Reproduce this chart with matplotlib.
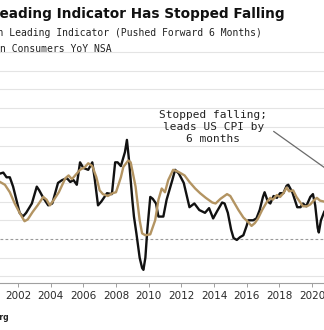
import matplotlib
matplotlib.use("Agg")
import matplotlib.pyplot as plt
import numpy as np

# US CPI, urban consumers, YoY % (NSA)
cpi_t = [2000.9, 2001.1, 2001.3, 2001.5, 2001.7, 2001.9, 2002.1, 2002.3, 2002.5, 2002.85,
         2003.15, 2003.3, 2003.55, 2003.85, 2004.1, 2004.45, 2004.7, 2005.0, 2005.2, 2005.4,
         2005.6, 2005.8, 2006.0, 2006.3, 2006.55, 2006.7, 2006.9, 2007.1, 2007.45, 2007.75,
         2007.95, 2008.1, 2008.3, 2008.55, 2008.67, 2008.8, 2009.0, 2009.1, 2009.25, 2009.45,
         2009.6, 2009.68, 2009.8, 2009.92, 2010.1, 2010.25, 2010.45, 2010.6, 2010.9, 2011.1,
         2011.45, 2011.62, 2011.85, 2012.15, 2012.5, 2012.8, 2013.1, 2013.45, 2013.7, 2013.95,
         2014.2, 2014.5, 2014.65, 2014.85, 2015.05, 2015.2, 2015.4, 2015.6, 2015.8, 2016.0,
         2016.1, 2016.4, 2016.6, 2016.8, 2017.0, 2017.1, 2017.3, 2017.45, 2017.65, 2017.85,
         2018.05, 2018.25, 2018.45, 2018.55, 2018.8, 2018.95, 2019.1, 2019.3, 2019.45, 2019.65,
         2019.9, 2020.06, 2020.2, 2020.35, 2020.42, 2020.55, 2020.75]
cpi_v = [3.5, 3.55, 3.3, 3.3, 2.8, 2.1, 1.4, 1.2, 1.4, 1.9,
         2.8, 2.6, 2.2, 1.8, 1.9, 3.0, 3.15, 3.25, 3.05, 3.15,
         2.9, 4.1, 3.8, 3.7, 4.1, 3.2, 1.8, 2.0, 2.45, 2.4,
         4.1, 4.1, 3.9, 4.65, 5.3, 4.2, 2.1, 1.2, 0.3, -1.0,
         -1.55, -1.65, -1.0, 0.5, 2.25, 2.15, 1.9, 1.2, 1.2, 2.1,
         3.15, 3.7, 3.5, 3.0, 1.7, 1.9, 1.55, 1.4, 1.65, 1.1,
         1.5, 1.95, 1.9, 1.4, 0.5, 0.05, -0.05, 0.1, 0.2, 0.7,
         1.0, 1.0, 1.1, 1.55, 2.25, 2.5, 2.0, 1.9, 2.3, 2.2,
         2.45, 2.45, 2.85, 2.9, 2.5, 2.1, 1.7, 1.7, 1.9, 1.75,
         2.25, 2.4, 1.8, 0.6, 0.35, 1.0, 1.45]

# Inflation leading indicator, pushed forward 6 months
lead_t = [2000.9, 2001.2, 2001.5, 2001.8, 2002.1, 2002.4, 2002.6, 2002.9, 2003.2, 2003.55,
          2003.75, 2003.95, 2004.2, 2004.5, 2004.9, 2005.1, 2005.3, 2005.5, 2005.8, 2006.1,
          2006.3, 2006.55, 2006.8, 2007.0, 2007.2, 2007.5, 2007.8, 2008.0, 2008.3, 2008.45,
          2008.75, 2008.9, 2009.2, 2009.45, 2009.6, 2009.8, 2010.1, 2010.4, 2010.6, 2010.8,
          2011.0, 2011.2, 2011.5, 2011.8, 2012.2, 2012.5, 2012.85, 2013.15, 2013.5, 2013.9,
          2014.1, 2014.4, 2014.8, 2015.0, 2015.2, 2015.5, 2015.8, 2016.1, 2016.3, 2016.5,
          2016.7, 2016.95, 2017.25, 2017.45, 2017.6, 2017.85, 2018.05, 2018.25, 2018.45, 2018.6,
          2018.85, 2019.05, 2019.25, 2019.45, 2019.7, 2019.9, 2020.1, 2020.3, 2020.5, 2020.75]
lead_v = [3.05, 2.9, 2.5, 1.9, 1.4, 0.95, 1.05, 1.45, 1.8, 2.25,
          2.1, 1.8, 2.1, 2.5, 3.25, 3.4, 3.2, 3.4, 3.7, 3.85,
          4.05, 3.9, 3.3, 2.6, 2.4, 2.3, 2.45, 2.5, 3.3, 3.85,
          4.2, 4.1, 2.8, 1.0, 0.3, 0.2, 0.25, 1.0, 2.1, 2.7,
          2.5, 3.15, 3.7, 3.6, 3.4, 3.05, 2.7, 2.45, 2.2, 1.95,
          1.9, 2.15, 2.4, 2.3, 2.0, 1.55, 1.15, 0.9, 0.7, 0.85,
          1.1, 1.55, 2.0, 2.2, 2.1, 2.35, 2.25, 2.45, 2.75, 2.55,
          2.6, 2.25, 2.0, 1.75, 1.75, 1.85, 2.05, 2.2, 2.05, 2.0]

year_ticks = [2002, 2004, 2006, 2008, 2010, 2012, 2014, 2016, 2018, 2020]
grid_levels = [-2, -1, 1, 2, 3, 4, 5, 6, 7, 8, 9, 10]

title = "Inflation Leading Indicator Has Stopped Falling"
sub1 = "Bloomberg Economics Inflation Leading Indicator (Pushed Forward 6 Months)"
sub2 = "CPI Urban Consumers YoY NSA"
note = "Stopped falling;\nleads US CPI by\n6 months"
source = "Source: Bloomberg"

W, H = 324, 330
fig = plt.figure(figsize=(W / 100, H / 100), dpi=100)
fig.patch.set_facecolor("white")

ax = fig.add_axes([0, 47 / H, 1, 233 / H])

for g in grid_levels:
    ax.axhline(g, color="#e4e4e4", lw=0.8, zorder=0)
ax.axhline(0, color="#9a9a9a", lw=0.8, ls=(0, (2.5, 2)), zorder=1)

ax.plot(cpi_t, cpi_v, color="#111111", lw=1.7, zorder=3, solid_joinstyle="round")
ax.plot(lead_t, lead_v, color="#b39462", lw=1.7, zorder=4, solid_joinstyle="round")

for s in ["top", "left", "right"]:
    ax.spines[s].set_visible(False)
ax.spines["bottom"].set_color("#a0a0a0")
ax.spines["bottom"].set_linewidth(0.8)
ax.set_yticks([])
ax.set_xticks(year_ticks)
ax.set_xticklabels([str(y) for y in year_ticks])
ax.tick_params(axis="x", direction="out", length=3, width=0.7, color="#a0a0a0",
               labelsize=7.5, labelcolor="#2a2a2a", pad=3)
ax.set_xlim(2000.898, 2020.738)
ax.set_ylim(-2.353, 10.107)

ax.annotate(note, xy=(2022.0, 3.05), xytext=(2013.97, 5.99), textcoords="data",
            ha="center", va="center", fontsize=8, family="DejaVu Sans Mono",
            color="#222222", linespacing=1.25, annotation_clip=False,
            arrowprops=dict(arrowstyle="-", color="#6a6a6a", lw=0.9,
                            relpos=(1.0, 0.5), shrinkA=3, shrinkB=0))

fig.text(285 / W, 1 - 14 / H, title, ha="right", va="center", fontsize=9.8,
         fontweight="bold", family="DejaVu Sans", color="#111111")
fig.text(262 / W, 1 - 33 / H, sub1, ha="right", va="center", fontsize=7,
         family="DejaVu Sans Mono", color="#222222")
fig.text(112 / W, 1 - 49 / H, sub2, ha="right", va="center", fontsize=7,
         family="DejaVu Sans Mono", color="#222222")
fig.text(9 / W, 1 - 317 / H, source, ha="right", va="center", fontsize=5.5,
         fontweight="bold", family="DejaVu Sans", color="#222222")

fig.savefig("out.png", dpi=100, facecolor="white")
